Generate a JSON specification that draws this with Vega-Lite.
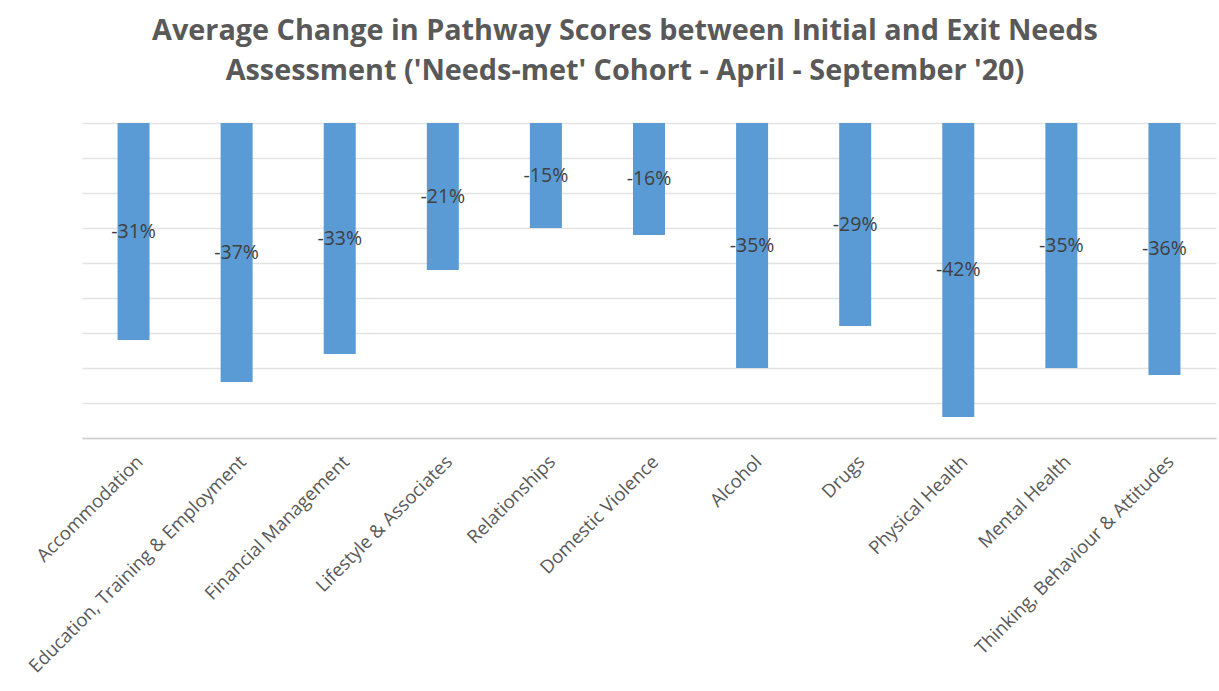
{
  "$schema": "https://vega.github.io/schema/vega-lite/v6.json",
  "width": 1134,
  "height": 315,
  "autosize": {"type": "none"},
  "padding": {"left": 82, "top": 123, "right": 3, "bottom": 253},
  "background": "white",
  "title": {
    "text": ["Average Change in Pathway Scores between Initial and Exit Needs", "Assessment ('Needs-met' Cohort - April - September '20)"],
    "font": "Open Sans",
    "fontSize": 28.8,
    "fontWeight": "bold",
    "color": "#595959",
    "lineHeight": 40,
    "anchor": "middle",
    "dx": -24,
    "offset": 37
  },
  "data": {
    "values": [
      {"pathway": "Accommodation", "change": -0.31},
      {"pathway": "Education, Training & Employment", "change": -0.37},
      {"pathway": "Financial Management", "change": -0.33},
      {"pathway": "Lifestyle & Associates", "change": -0.21},
      {"pathway": "Relationships", "change": -0.15},
      {"pathway": "Domestic Violence", "change": -0.16},
      {"pathway": "Alcohol", "change": -0.35},
      {"pathway": "Drugs", "change": -0.29},
      {"pathway": "Physical Health", "change": -0.42},
      {"pathway": "Mental Health", "change": -0.35},
      {"pathway": "Thinking, Behaviour & Attitudes", "change": -0.36}
    ]
  },
  "encoding": {
    "x": {
      "field": "pathway",
      "type": "nominal",
      "sort": null,
      "title": null,
      "scale": {"paddingInner": 0, "paddingOuter": 0},
      "axis": {
        "labelAngle": -45,
        "labelFont": "Open Sans",
        "labelFontSize": 18.5,
        "labelColor": "#595959",
        "labelPadding": 14,
        "ticks": false,
        "domainColor": "#d0d0d0",
        "domainWidth": 1.5,
        "labelLimit": 400
      }
    }
  },
  "layer": [
    {
      "mark": {"type": "bar", "width": 32, "color": "#5B9BD5"},
      "encoding": {
        "y": {
          "field": "change",
          "type": "quantitative",
          "scale": {"domain": [-0.45, 0], "nice": false},
          "title": null,
          "axis": {
            "values": [-0.45, -0.4, -0.35, -0.3, -0.25, -0.2, -0.15, -0.1, -0.05, 0],
            "labels": false,
            "ticks": false,
            "domain": false,
            "minExtent": 0,
            "maxExtent": 0,
            "gridColor": "#e3e3e3",
            "gridWidth": 1.5
          }
        }
      }
    },
    {
      "transform": [
        {"calculate": "datum.change / 2", "as": "mid"},
        {"calculate": "replace(format(datum.change, '.0%'), '\u2212', '-')", "as": "label"}
      ],
      "mark": {"type": "text", "font": "Open Sans", "fontSize": 19.5, "color": "#404040", "align": "center", "baseline": "middle"},
      "encoding": {
        "y": {
          "field": "mid",
          "type": "quantitative",
          "scale": {"domain": [-0.45, 0], "nice": false},
          "title": null,
          "axis": {
            "values": [-0.45, -0.4, -0.35, -0.3, -0.25, -0.2, -0.15, -0.1, -0.05, 0],
            "labels": false,
            "ticks": false,
            "domain": false,
            "minExtent": 0,
            "maxExtent": 0,
            "gridColor": "#e3e3e3",
            "gridWidth": 1.5
          }
        },
        "text": {"field": "label", "type": "nominal"}
      }
    }
  ],
  "config": {"view": {"stroke": null}}
}
